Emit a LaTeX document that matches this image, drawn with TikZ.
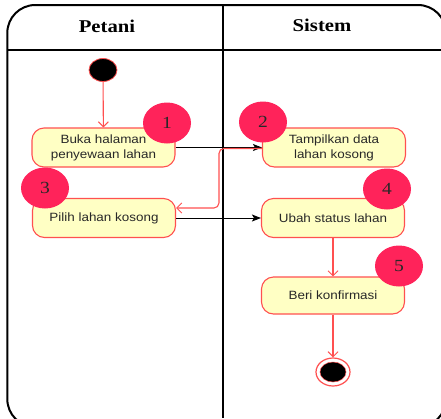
\documentclass[tikz,border=0pt]{standalone}
\usepackage{fontspec}
\setmainfont{Liberation Serif}[FakeStretch=1.15]
\newfontfamily\boxfont{Liberation Sans}[FakeStretch=1.12]
\usetikzlibrary{shapes.geometric,arrows.meta}
\definecolor{boxfill}{RGB}{255,255,196}
\definecolor{boxline}{RGB}{255,80,80}
\definecolor{badge}{RGB}{255,35,90}
\definecolor{txt}{RGB}{40,40,40}
\tikzset{
  actbox/.style={draw=boxline, line width=1.1pt, fill=boxfill, rounded corners=12pt,
    minimum width=143pt, minimum height=39pt, inner sep=0pt, align=center,
    font=\boxfont\fontsize{12}{15}\selectfont, text=txt},
  numbadge/.style={ellipse, fill=badge, minimum width=48pt, minimum height=41pt, inner sep=0pt,
    font=\fontsize{17}{17}\selectfont, text=txt},
  hdr/.style={font=\bfseries\fontsize{18}{18}\selectfont, text=black},
  redline/.style={draw=boxline, line width=1.1pt, -{Straight Barb[length=5pt,width=10pt,line width=1pt]}},
  blkline/.style={draw=black, line width=1pt, -{Stealth[length=9pt,width=7pt,inset=2pt]}}
}
\begin{document}
\begin{tikzpicture}[x=1pt,y=-1pt]
\useasboundingbox (0,0) rectangle (441,418);
\fill[white] (0,0) rectangle (441,418);
\begin{scope}
  \clip (0,0) rectangle (441,418);
  \draw[line width=2pt, rounded corners=28pt] (7.3,5) rectangle (446,427);
\end{scope}
\draw[line width=1.6pt] (7.3,50) -- (441,50);
\draw[line width=1.8pt] (222.7,5) -- (222.7,418);
\node[hdr] (hp) at (107,26) {Petani};
\node[hdr] (hs) at (322,25) {Sistem};

\node[ellipse, fill=black, draw=boxline, line width=0.8pt, minimum width=28pt, minimum height=23pt, inner sep=0pt] (start) at (103,70) {};

\node[actbox] (b1) at (103.5,147.5) {Buka halaman\\penyewaan lahan};
\node[actbox] (b2) at (334,147.5) {Tampilkan data\\lahan kosong};
\node[actbox] (b3) at (104,218) {Pilih lahan kosong};
\node[actbox] (b4) at (333,218) {Ubah status lahan};
\node[actbox, minimum height=37pt] (b5) at (333,295.5) {Beri konfirmasi};

\node[ellipse, fill=white, draw=boxline, line width=1.2pt, minimum width=34pt, minimum height=28pt, inner sep=0pt] (endo) at (333,372) {};
\node[ellipse, fill=black, draw=boxline, line width=0.5pt, minimum width=26pt, minimum height=20pt, inner sep=0pt] (endi) at (333,372) {};

\node[numbadge] (n1) at (167,123) {1};
\node[numbadge] (n2) at (263,122) {2};
\node[numbadge] (n3) at (45,188) {3};
\node[numbadge] (n4) at (387,189) {4};
\node[numbadge] (n5) at (399,266) {5};

\draw[redline] (start) -- (b1);
\draw[blkline] (b1.east) -- (b2.west);
\draw[redline, rounded corners=5pt] ([yshift=-1pt]b2.west) -- ++(-43,0) |- ([yshift=10pt]b3.east);
\draw[blkline] (b3.east) -- (b4.west);
\draw[redline] (b4) -- (b5);
\draw[redline] (b5) -- (endo);
\end{tikzpicture}
\end{document}
